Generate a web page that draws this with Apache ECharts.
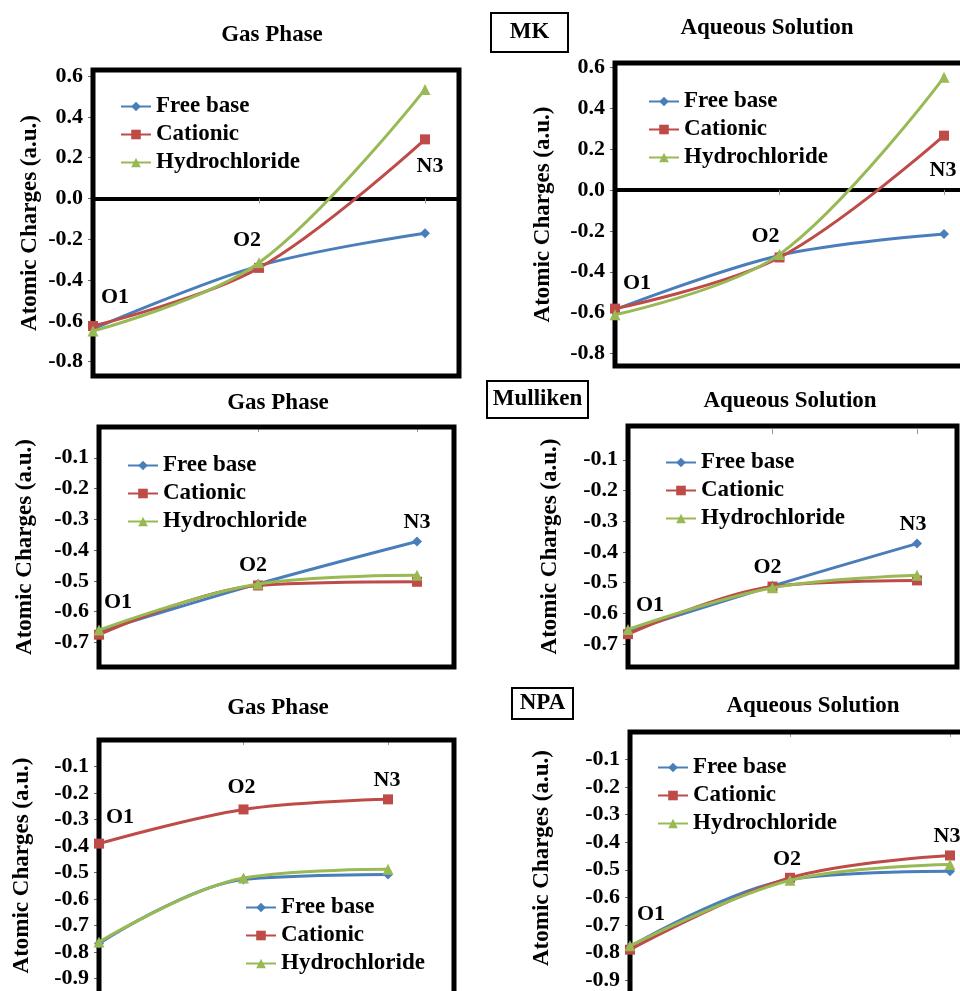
<!DOCTYPE html>
<html><head><meta charset="utf-8">
<script src="https://cdn.jsdelivr.net/npm/echarts@6/dist/echarts.min.js"></script>
<style>html,body{margin:0;padding:0;background:#fff}#c{width:960px;height:991px}</style>
</head><body><div id="c"></div>
<script>
// ---------- data ----------
const categories = ['O1', 'O2', 'N3'];
const seriesNames = ['Free base', 'Cationic', 'Hydrochloride'];

const mkGasFree = [-0.64, -0.33, -0.17];
const mkGasCat  = [-0.625, -0.34, 0.29];
const mkGasHcl  = [-0.65, -0.315, 0.535];
const mkAqFree  = [-0.585, -0.32, -0.215];
const mkAqCat   = [-0.58, -0.33, 0.265];
const mkAqHcl   = [-0.61, -0.315, 0.55];

const mulGasFree = [-0.665, -0.51, -0.372];
const mulGasCat  = [-0.675, -0.515, -0.503];
const mulGasHcl  = [-0.66, -0.51, -0.482];
const mulAqFree  = [-0.658, -0.511, -0.373];
const mulAqCat   = [-0.668, -0.513, -0.493];
const mulAqHcl   = [-0.653, -0.517, -0.476];

const npaGasFree = [-0.768, -0.526, -0.508];
const npaGasCat  = [-0.391, -0.262, -0.224];
const npaGasHcl  = [-0.762, -0.521, -0.488];
const npaAqFree  = [-0.779, -0.535, -0.505];
const npaAqCat   = [-0.79, -0.529, -0.448];
const npaAqHcl   = [-0.776, -0.538, -0.481];

const mkTicks  = [-0.8, -0.6, -0.4, -0.2, 0.0, 0.2, 0.4, 0.6];
const mulTicks = [-0.7, -0.6, -0.5, -0.4, -0.3, -0.2, -0.1];
const npaTicks = [-0.9, -0.8, -0.7, -0.6, -0.5, -0.4, -0.3, -0.2, -0.1];

const panelTitles = ['Gas Phase', 'Aqueous Solution', 'Gas Phase', 'Aqueous Solution', 'Gas Phase', 'Aqueous Solution'];
const methodNames = ['MK', 'Mulliken', 'NPA'];
const yTitle = 'Atomic Charges (a.u.)';

// ---------- layout / style ----------
const FONT = 'Liberation Serif';
const colors = ['#4A7EBB', '#BE4B48', '#98B954'];
const symbols = ['diamond', 'rect', 'triangle'];
const symbolSizes = [10, 10, 11];
const W = 960, H = 991;

// frame: full plot box (may extend past the page edge); scale: px per x unit / px per y unit
const panels = [
  { data: [mkGasFree, mkGasCat, mkGasHcl], ticks: mkTicks, frame: {x: 93, y: 70, w: 366, h: 306}, yTop: 0.63, xScale: 166, yScale: 204, zeroLine: true, nameGap: 51, legend: {left: 120, top: 95}, title: [272, 35], labelSeries: 0, labelOffsets: [[22, -32], [-12, -26], [5, -67]] },
  { data: [mkAqFree, mkAqCat, mkAqHcl], ticks: mkTicks, frame: {x: 615, y: 63, w: 362, h: 303}, yTop: 0.62, xScale: 164.5, yScale: 204.7, zeroLine: true, nameGap: 60, legend: {left: 648, top: 90}, title: [767, 28], labelSeries: 0, labelOffsets: [[22, -26], [-14, -19], [-1, -64]] },
  { data: [mulGasFree, mulGasCat, mulGasHcl], ticks: mulTicks, frame: {x: 99, y: 427, w: 355, h: 240}, yTop: 0, xScale: 159, yScale: 307.7, zeroLine: false, nameGap: 62, legend: {left: 127, top: 454}, title: [278, 403], labelSeries: 0, labelOffsets: [[19, -29], [-5, -19], [0, -19]] },
  { data: [mulAqFree, mulAqCat, mulAqHcl], ticks: mulTicks, frame: {x: 628, y: 426, w: 329, h: 241}, yTop: 0.01, xScale: 144.5, yScale: 307, zeroLine: false, nameGap: 66, legend: {left: 665, top: 451}, title: [790, 401], labelSeries: 0, labelOffsets: [[22, -26], [-5, -19], [-4, -19]] },
  { data: [npaGasFree, npaGasCat, npaGasHcl], ticks: npaTicks, frame: {x: 99, y: 740, w: 355, h: 265}, yTop: 0, xScale: 144.5, yScale: 265, zeroLine: false, nameGap: 65, legend: {left: 245, top: 896}, title: [278, 708], labelSeries: 1, labelOffsets: [[21, -26], [-2, -22], [-1, -19]] },
  { data: [npaAqFree, npaAqCat, npaAqHcl], ticks: npaTicks, frame: {x: 630, y: 732, w: 352, h: 290}, yTop: 0, xScale: 160, yScale: 283, zeroLine: false, nameGap: 76, legend: {left: 657, top: 756}, title: [813, 706], labelSeries: 1, labelOffsets: [[21, -35], [-3, -18], [-3, -19]] }
];
const methodBoxes = [
  {x: 491, y: 13, w: 77, h: 39},
  {x: 487, y: 381, w: 101, h: 37},
  {x: 512, y: 688, w: 61, h: 31}
];

const boldText = (size) => ({ fontFamily: FONT, fontWeight: 'bold', fontSize: size, color: '#000' });

const grids = [], xAxes = [], yAxes = [], series = [], legends = [], graphics = [];

panels.forEach((p, gi) => {
  const f = p.frame;
  const gw = Math.min(f.w, W - f.x);
  const gh = Math.min(f.h, H - f.y);
  grids.push({ show: false, left: f.x, top: f.y, width: gw, height: gh, containLabel: false });
  xAxes.push({
    type: 'value', gridIndex: gi, min: 0, max: gw / p.xScale, interval: 1,
    axisLine: { show: p.zeroLine, onZero: true, lineStyle: { color: '#000', width: 4 } },
    axisTick: { show: true, length: 5, inside: false, lineStyle: { color: '#999', width: 1 } },
    axisLabel: { show: false }, splitLine: { show: false }
  });
  yAxes.push({
    type: 'value', gridIndex: gi, max: p.yTop, min: p.yTop - gh / p.yScale,
    name: yTitle, nameLocation: 'middle', nameGap: p.nameGap, nameRotate: 90,
    nameTextStyle: boldText(23),
    axisLine: { show: false },
    axisTick: { show: true, length: 5, customValues: p.ticks, lineStyle: { color: '#666' } },
    axisLabel: { show: true, customValues: p.ticks, margin: 10, formatter: v => (Math.abs(v) < 1e-9 ? 0 : v).toFixed(1), ...boldText(22) },
    splitLine: { show: false }
  });
  p.data.forEach((vals, k) => {
    series.push({
      type: 'line', name: seriesNames[k], xAxisIndex: gi, yAxisIndex: gi,
      smooth: 0.35, clip: false,
      symbol: symbols[k], symbolSize: symbolSizes[k],
      itemStyle: { color: colors[k] },
      lineStyle: { color: colors[k], width: 3 },
      emphasis: { disabled: true },
      z: 5 + k,
      data: vals.map((v, i) => ({
        value: [i, v],
        label: k === p.labelSeries ? {
          show: true, formatter: categories[i], position: 'inside',
          offset: p.labelOffsets[i], ...boldText(22)
        } : { show: false }
      }))
    });
  });
  legends.push({
    orient: 'vertical', left: p.legend.left, top: p.legend.top, padding: 0,
    itemWidth: 30, itemHeight: 12, itemGap: 5,
    data: seriesNames, selectedMode: false,
    textStyle: boldText(23)
  });
  graphics.push({
    type: 'rect', z: 1, silent: true,
    shape: { x: f.x, y: f.y, width: f.w, height: f.h },
    style: { fill: 'none', stroke: '#000', lineWidth: 5 }
  });
  graphics.push({
    type: 'text', x: p.title[0], y: p.title[1],
    style: { text: panelTitles[gi], textAlign: 'center', textVerticalAlign: 'middle', font: 'bold 23px "Liberation Serif"', fill: '#000' }
  });
});

methodBoxes.forEach((b, i) => {
  graphics.push({ type: 'rect', shape: { x: b.x, y: b.y, width: b.w, height: b.h }, style: { fill: '#fff', stroke: '#000', lineWidth: 2 } });
  graphics.push({ type: 'text', x: b.x + b.w / 2, y: b.y + b.h / 2,
    style: { text: methodNames[i], textAlign: 'center', textVerticalAlign: 'middle', font: 'bold 23px "Liberation Serif"', fill: '#000' } });
});

const chart = echarts.init(document.getElementById('c'), null, { renderer: 'canvas' });
chart.setOption({
  animation: false,
  backgroundColor: '#fff',
  grid: grids, xAxis: xAxes, yAxis: yAxes,
  legend: legends, series: series, graphic: graphics
});
</script>
</body></html>
